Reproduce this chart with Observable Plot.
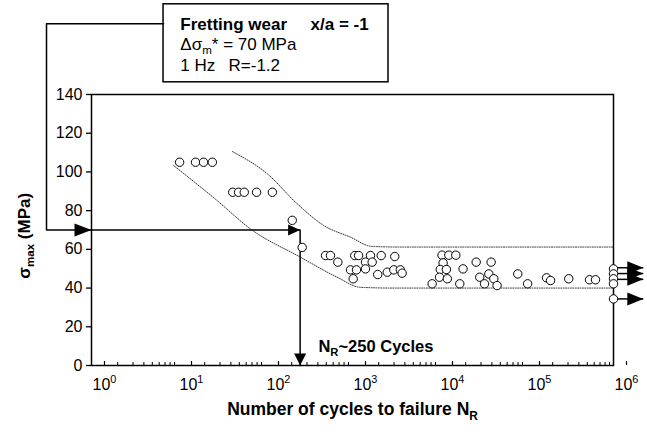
<!DOCTYPE html>
<html><head><meta charset="utf-8">
<script src="https://cdn.jsdelivr.net/npm/d3@7"></script>
<script src="https://cdn.jsdelivr.net/npm/@observablehq/plot@0.6"></script>
<style>
html,body{margin:0;padding:0;background:#fff;}
#chart{width:647px;height:434px;}
</style></head><body><div id="chart"></div>
<script>
// ---- data ----
const cyclesN = [10.3, 15.7, 19.4, 24.5,
  42, 49, 57, 79, 120,
  203, 264,
  490, 558, 678, 948, 1018, 1062, 1111, 1175, 1410, 1410, 1610, 1683, 1950, 2138, 2510, 2985, 3060, 3550, 3720, 8230,
  10700, 12800, 15400, 11000, 10200, 12000, 10000, 12300,
  18650, 17100, 26400, 39200, 29000, 32900, 36900, 42100, 45900, 79400, 103000, 170000, 189000, 306000, 530000, 621000];
const stressMPa = [105, 105, 105, 105,
  89.5, 89.5, 89.5, 89.5, 89.5,
  75, 61,
  56.8, 56.8, 53.4, 49.4, 44.8, 56.8, 49.4, 56.8, 53.4, 49.9, 56.8, 53.4, 47, 56.8, 48.2, 49.4, 56.3, 49.4, 47.7, 42.2,
  57, 57, 57, 53, 49.6, 49.6, 45.6, 44.8,
  49.9, 42.2, 53.4, 53.4, 45.6, 42.2, 47.3, 44.8, 41.3, 47.3, 42.2, 45.3, 43.9, 44.8, 44.3, 44.3];
const runoutN = 1e6;
const runoutStress = [49.9, 47.3, 44.8, 42.2, 34.4];
const runoutArrowStress = [50.5, 47.5, 44.5, 34.4];
const runoutArrowTipN = 2.2e6;

const upperBandN = [41.7, 105, 232, 468, 948, 1683, 3550, 1e6];
const upperBandS = [110.5, 99, 83.5, 72.3, 66.3, 61.5, 61.2, 61.2];
const lowerBandN = [8.8, 27.8, 67, 251, 667, 1230, 3000, 1e6];
const lowerBandS = [103.3, 85.2, 70.6, 56, 45.6, 40.4, 40, 40];

const targetStress = 70;   // MPa
const targetLife = 250;    // cycles

const xMajorTicks = [1, 10, 100, 1000, 1e4, 1e5, 1e6];
const yTicks = [0, 20, 40, 60, 80, 100, 120, 140];

// callout box and its leader (in data units)
const boxN = [6.73, 2594];
const boxS = [146.3, 186.6];
const leaderN = [6.73, 0.304, 0.304, 1];
const leaderS = [176.6, 176.6, targetStress, targetStress];
const boxLines = [
  {text: "Fretting wear", N: 10.5, s: 176.2, bold: true},
  {text: "x/a = -1", N: 330, s: 176.2, bold: true},
  {text: "Δσ_{m}* = 70 MPa", N: 10.5, s: 165.9, bold: false},
  {text: "1 Hz", N: 10.5, s: 155.2, bold: false},
  {text: "R=-1.2", N: 37.6, s: 155.2, bold: false}
];
const lifeLabel = {text: "N_{R}~250 Cycles", N: 406, s: 9.8};
const xLabel = "Number of cycles to failure N_{R}";
const yLabel = "σ_{max} (MPa)";

// ---- build ----
const points = cyclesN.map((n, i) => ({N: n, s: stressMPa[i]}));
const runouts = runoutStress.map(s => ({N: runoutN, s}));
const runArrows = runoutArrowStress.map(s => ({N1: runoutN, N2: runoutArrowTipN, s}));
const upper = upperBandN.map((n, i) => ({N: n, s: upperBandS[i]}));
const lower = lowerBandN.map((n, i) => ({N: n, s: lowerBandS[i]}));
const leader = leaderN.map((n, i) => ({N: n, s: leaderS[i]}));
const target = [{N: 1, s: targetStress}, {N: targetLife, s: targetStress}, {N: targetLife, s: 0}];
const xMinorTicks = [];
for (let d = 1; d < 1e6; d *= 10) for (let k = 2; k <= 9; k++) xMinorTicks.push(d * k);

const head = (L, W) => ({draw(ctx) { ctx.moveTo(0, 0); ctx.lineTo(-L, -W / 2); ctx.lineTo(-L, W / 2); ctx.closePath(); }});

const font = "'Liberation Sans', Arial, Helvetica, sans-serif";

const plot = Plot.plot({
  width: 647, height: 434,
  marginLeft: 91, marginRight: 34, marginTop: 94, marginBottom: 69,
  style: {fontFamily: font, fontSize: "16px", background: "#fff", color: "#000", overflow: "visible"},
  x: {type: "log", domain: [1, 1e6]},
  y: {domain: [0, 140]},
  marks: [
    Plot.axisY({ticks: yTicks, tickSize: 5, tickPadding: 4, label: null, fontSize: 16, strokeWidth: 1.3}),
    Plot.axisX({ticks: xMinorTicks, tickSize: -3, tickFormat: () => "", label: null, strokeWidth: 1}),
    Plot.axisX({ticks: xMajorTicks, tickSize: -4, tickPadding: 17, dx: 13, fontSize: 16,
      tickFormat: d => "10^{" + Math.round(Math.log10(d)) + "}", label: null, strokeWidth: 1.2}),
    Plot.frame({stroke: "#000", strokeWidth: 1.5}),
    Plot.line(upper, {x: "N", y: "s", curve: "monotone-x", stroke: "#333", strokeWidth: 1, strokeDasharray: "1,1.4"}),
    Plot.line(lower, {x: "N", y: "s", curve: "monotone-x", stroke: "#333", strokeWidth: 1, strokeDasharray: "1,1.4"}),
    // callout box
    Plot.rect([{x1: boxN[0], x2: boxN[1], y1: boxS[0], y2: boxS[1]}], {x1: "x1", x2: "x2", y1: "y1", y2: "y2", fill: "#fff", stroke: "#000", strokeWidth: 1.5}),
    Plot.line(leader, {x: "N", y: "s", stroke: "#000", strokeWidth: 1.5}),
    Plot.dot([{N: 1, s: targetStress}], {x: "N", y: "s", symbol: head(17, 13), r: 5, fill: "#000", stroke: null}),
    Plot.line(target, {x: "N", y: "s", stroke: "#000", strokeWidth: 1.5}),
    Plot.dot([{N: targetLife, s: targetStress}], {x: "N", y: "s", symbol: head(12, 11), r: 5, fill: "#000", stroke: null}),
    Plot.dot([{N: targetLife, s: 0}], {x: "N", y: "s", symbol: head(12, 12), rotate: 90, r: 5, fill: "#000", stroke: null}),
    // run-outs
    Plot.link(runArrows, {x1: "N1", x2: "N2", y1: "s", y2: "s", stroke: "#000", strokeWidth: 1.5}),
    Plot.dot(runArrows, {x: "N2", y: "s", symbol: head(16, 13), r: 5, fill: "#000", stroke: null}),
    Plot.dot(points, {x: "N", y: "s", r: 4.2, fill: "#fff", stroke: "#000", strokeWidth: 1}),
    Plot.dot(runouts, {x: "N", y: "s", r: 4.2, fill: "#fff", stroke: "#000", strokeWidth: 1}),
    // texts
    Plot.text(boxLines.filter(d => d.bold), {x: "N", y: "s", text: "text", textAnchor: "start", fontSize: 17, fontWeight: "bold", fill: "#000"}),
    Plot.text(boxLines.filter(d => !d.bold), {x: "N", y: "s", text: "text", textAnchor: "start", fontSize: 17, fill: "#000"}),
    Plot.text([lifeLabel], {x: "N", y: "s", text: "text", textAnchor: "start", fontSize: 16.5, fontWeight: "bold", fill: "#000"}),
    Plot.text([xLabel], {frameAnchor: "bottom", textAnchor: "middle", lineAnchor: "middle", dy: 44, fontSize: 17.5, fontWeight: "bold", fill: "#000"}),
    Plot.text([yLabel], {frameAnchor: "left", textAnchor: "middle", lineAnchor: "middle", y: 67, dx: -67, rotate: -90, fontSize: 17, fontWeight: "bold", fill: "#000"})
  ]
});
document.getElementById("chart").appendChild(plot);

// turn _{..} and ^{..} markup into real sub/superscript tspans, keeping centred labels centred
function richify(el) {
  const s = el.textContent;
  if (!/[_^]\{/.test(s)) return;
  const cs = getComputedStyle(el);
  const fs = parseFloat(cs.fontSize) || 16;
  const centred = cs.textAnchor === "middle";
  const parts = s.split(/([_^]\{[^}]*\})/).filter(p => p.length);
  el.textContent = "";
  for (const p of parts) {
    const t = document.createElementNS("http://www.w3.org/2000/svg", "tspan");
    let txt = p;
    if (p.startsWith("_{")) { txt = p.slice(2, -1); t.setAttribute("baseline-shift", (-0.26 * fs) + "px"); t.setAttribute("font-size", (0.68 * fs) + "px"); }
    else if (p.startsWith("^{")) { txt = p.slice(2, -1); t.setAttribute("baseline-shift", (0.42 * fs) + "px"); t.setAttribute("font-size", (0.68 * fs) + "px"); }
    t.textContent = txt;
    el.appendChild(t);
  }
  if (centred) {
    const len = el.getComputedTextLength();
    const x0 = parseFloat(el.getAttribute("x")) || 0;
    el.setAttribute("text-anchor", "start");
    el.style.textAnchor = "start";
    el.setAttribute("x", x0 - len / 2);
  }
}
plot.querySelectorAll("text").forEach(richify);
</script></body></html>
